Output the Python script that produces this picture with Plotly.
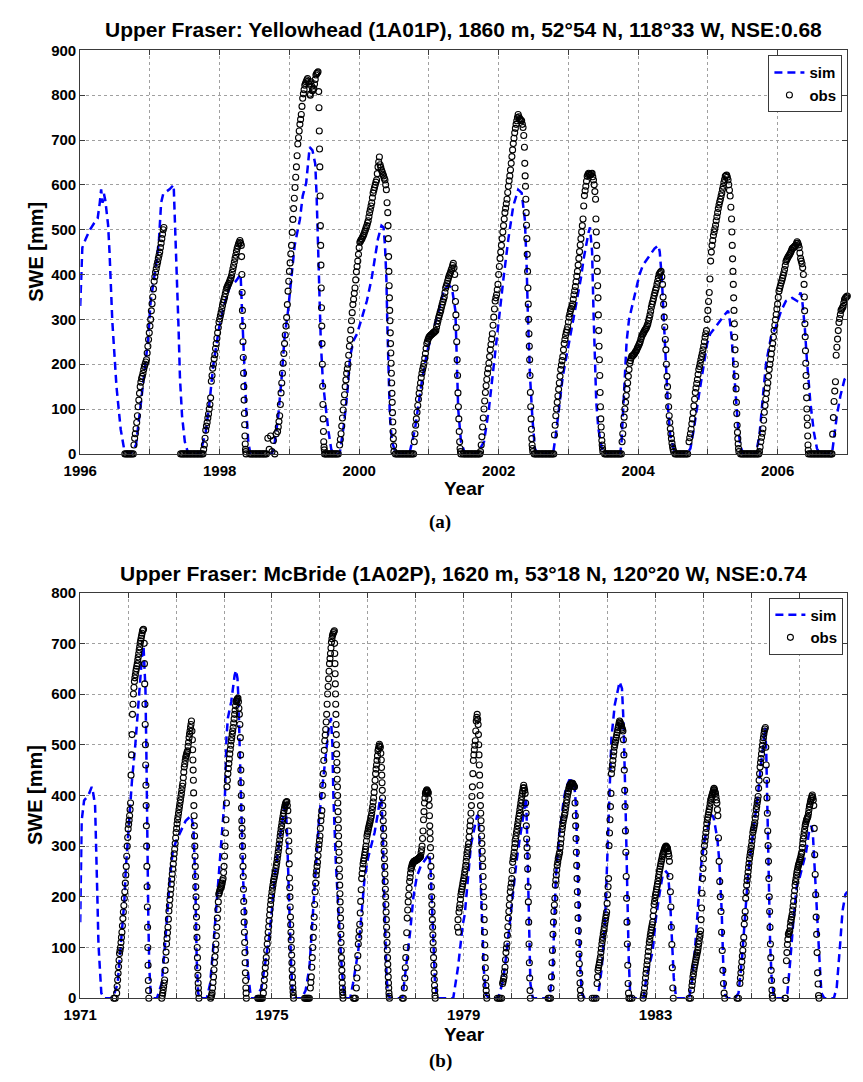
import plotly.graph_objects as go

W, H = 863, 1082

# ---------------- Panel (a): Yellowhead (1A01P) ----------------
# simulated SWE as (decimal year, mm)
sim_a = [
    (1996.00, 330), (1996.03, 460), (1996.08, 480), (1996.14, 500), (1996.20, 515), (1996.25, 525),
    (1996.28, 560), (1996.30, 590), (1996.32, 560), (1996.34, 580), (1996.36, 565), (1996.38, 540),
    (1996.40, 510), (1996.42, 450), (1996.46, 296), (1996.52, 150), (1996.58, 55), (1996.63, 10), (1996.70, 0),
    (1996.72, 0), (1996.80, 20), (1996.86, 100), (1996.92, 180), (1996.97, 250), (1997.01, 340), (1997.04, 370),
    (1997.07, 400), (1997.10, 436), (1997.13, 480), (1997.16, 560), (1997.19, 580), (1997.24, 585), (1997.28, 590),
    (1997.34, 600), (1997.36, 520), (1997.385, 390), (1997.41, 280), (1997.43, 170), (1997.46, 85), (1997.50, 27), (1997.55, 0),
    (1997.72, 0), (1997.80, 50), (1997.85, 110), (1997.91, 200), (1997.99, 280), (1998.06, 330), (1998.10, 350),
    (1998.15, 375), (1998.23, 385), (1998.30, 400), (1998.32, 320), (1998.345, 246), (1998.36, 173), (1998.38, 100),
    (1998.41, 27), (1998.44, 0),
    (1998.75, 0), (1998.79, 27), (1998.84, 85), (1998.89, 173), (1998.93, 260), (1998.98, 319), (1999.03, 392),
    (1999.075, 465), (1999.15, 523), (1999.19, 575), (1999.24, 604), (1999.27, 647), (1999.29, 684), (1999.33, 677),
    (1999.37, 647), (1999.39, 575), (1999.41, 465), (1999.43, 340), (1999.45, 250), (1999.48, 160), (1999.52, 100),
    (1999.56, 50), (1999.60, 10), (1999.64, 0),
    (1999.72, 0), (1999.78, 64), (1999.83, 136), (1999.87, 217), (1999.92, 253), (1999.97, 268), (2000.04, 304),
    (2000.11, 341), (2000.18, 392), (2000.23, 436), (2000.27, 480), (2000.32, 509), (2000.35, 505), (2000.37, 465),
    (2000.39, 392), (2000.405, 282), (2000.42, 173), (2000.44, 85), (2000.47, 27), (2000.53, 0),
    (2000.72, 0), (2000.80, 55), (2000.86, 120), (2000.91, 173), (2000.98, 231), (2001.05, 268), (2001.14, 319),
    (2001.21, 363), (2001.28, 377), (2001.33, 370), (2001.38, 319), (2001.40, 210), (2001.42, 100), (2001.46, 27), (2001.52, 0),
    (2001.69, 0), (2001.79, 27), (2001.86, 100), (2001.93, 202), (2002.00, 297), (2002.07, 392), (2002.14, 480),
    (2002.21, 553), (2002.28, 589), (2002.33, 582), (2002.375, 524), (2002.40, 429), (2002.42, 305), (2002.45, 173),
    (2002.485, 78), (2002.52, 12), (2002.565, 0),
    (2002.78, 0), (2002.82, 42), (2002.87, 115), (2002.92, 173), (2002.99, 232), (2003.06, 290), (2003.13, 348),
    (2003.18, 392), (2003.22, 436), (2003.27, 480), (2003.29, 494), (2003.31, 505), (2003.34, 451), (2003.36, 319),
    (2003.38, 210), (2003.40, 115), (2003.43, 56), (2003.48, 12), (2003.53, 0),
    (2003.74, 0), (2003.76, 20), (2003.80, 150), (2003.835, 250), (2003.87, 300), (2003.91, 327), (2003.95, 356),
    (2004.02, 400), (2004.07, 421), (2004.14, 436), (2004.235, 458), (2004.29, 465), (2004.31, 451), (2004.34, 392),
    (2004.37, 283), (2004.40, 173), (2004.43, 100), (2004.46, 42), (2004.52, 5), (2004.56, 0),
    (2004.70, 0), (2004.75, 12), (2004.80, 56), (2004.87, 129), (2004.94, 202), (2004.99, 246), (2005.035, 268),
    (2005.105, 283), (2005.18, 297), (2005.25, 312), (2005.29, 319), (2005.31, 305), (2005.34, 261), (2005.365, 210),
    (2005.39, 158), (2005.41, 100), (2005.435, 56), (2005.47, 16), (2005.51, 0),
    (2005.69, 0), (2005.74, 42), (2005.79, 129), (2005.835, 202), (2005.905, 261), (2005.975, 283), (2006.05, 319),
    (2006.12, 341), (2006.21, 348), (2006.28, 341), (2006.33, 360), (2006.35, 348), (2006.39, 283), (2006.42, 210),
    (2006.47, 115), (2006.52, 49), (2006.565, 12), (2006.61, 0),
    (2006.78, 0), (2006.80, 27), (2006.85, 85), (2006.90, 129), (2006.96, 166), (2007.00, 173),
]

# observed SWE, stored as evenly sampled runs: (first sample year, sampling step in years, values in mm)
obs_a_1997_bare = (1996.64, 0.02, [0, 0, 0, 0, 0, 0, 0])
obs_a_1997_acc = (1996.77, 0.01, [20, 35, 45, 56, 70, 85, 105, 120, 135, 150, 160, 168, 173, 180, 188, 195, 200, 205,
                                  210, 225, 240, 255, 270, 285, 300, 319, 335, 350, 368, 385, 395, 405, 413, 421, 428,
                                  436, 443, 450, 460, 470, 480, 490, 500, 505])
obs_a_1998_bare = (1997.44, 0.02, [0, 0, 0, 0, 0, 0, 0, 0, 0, 0, 0, 0, 0, 0, 0, 0, 0])
obs_a_1998_acc = (1997.77, 0.01, [10, 20, 35, 53, 62, 70, 80, 89, 100, 110, 125, 162, 175, 191, 200, 212, 221, 235, 246,
                                  258, 270, 282, 294, 301, 308, 315, 323, 331, 338, 344, 350, 357, 364, 370, 373, 377,
                                  380, 384, 388, 392, 398, 405, 413, 420, 428, 436, 443, 451, 458, 463, 468, 472, 476,
                                  470, 465])
obs_a_1998_melt = (1998.314, 0.004, [440, 400, 360, 320, 285, 250, 215, 180, 150, 120, 90, 65, 40, 22, 10, 5, 0])
obs_a_1998_summer = (1998.43, 0.02, [0, 0, 0, 0, 0, 0, 0, 0, 0, 0, 0, 0, 0, 35, 10, 40, 5, 30, 0, 45])
obs_a_1999_acc = (1998.83, 0.01, [50, 60, 72, 85, 110, 136, 158, 180, 202, 224, 246, 265, 285, 304, 333, 363, 385, 407,
                                  426, 446, 465, 494, 523, 547, 570, 594, 617, 640, 665, 691, 705, 720, 735, 746, 757,
                                  775, 793, 803, 812, 822, 826, 830, 834, 837, 831, 825, 802, 800, 830, 820, 810, 812,
                                  815, 825, 835, 845, 848, 850, 852])
obs_a_1999_melt = (1999.42, 0.004, [808, 772, 720, 680, 640, 575, 509, 465, 421, 370, 326, 285, 246, 200, 151, 110, 78,
                                    50, 27, 15, 9, 0])
obs_a_1999_summer = (1999.52, 0.02, [0, 0, 0, 0, 0, 0, 0, 0, 0, 0])
obs_a_2000_acc = (1999.72, 0.01, [20, 32, 45, 62, 80, 98, 115, 132, 150, 165, 180, 190, 200, 220, 240, 255, 276, 297,
                                  315, 333, 345, 358, 370, 388, 406, 418, 430, 445, 460, 472, 475, 478, 480, 484, 487,
                                  491, 496, 500, 505, 509, 515, 520, 529, 538, 545, 553, 560, 571, 582, 588, 594, 600,
                                  606, 611, 625, 640, 651, 662, 645, 639, 633, 629, 624, 620, 615, 611, 600, 589, 560])
obs_a_2000_melt = (2000.41, 0.004, [538, 509, 480, 440, 407, 375, 348, 320, 297, 270, 246, 225, 202, 180, 158, 135, 115,
                                    92, 71, 50, 34, 18, 5])
obs_a_2000_summer = (2000.52, 0.02, [0, 0, 0, 0, 0, 0, 0, 0, 0, 0, 0, 0, 0, 0])
obs_a_2001_acc = (2000.79, 0.01, [27, 45, 64, 78, 93, 108, 122, 135, 147, 158, 170, 180, 188, 195, 202, 213, 224, 235,
                                  246, 251, 256, 260, 262, 264, 265, 267, 268, 270, 271, 272, 274, 275, 283, 290, 297,
                                  304, 309, 315, 320, 327, 333, 339, 345, 350, 360, 370, 375, 380, 386, 392, 397, 401,
                                  405, 410, 414, 420, 425, 415, 400])
obs_a_2001_melt = (2001.375, 0.006, [370, 340, 310, 282, 250, 210, 175, 136, 105, 78, 50, 27, 12, 5, 0])
obs_a_2001_summer = (2001.49, 0.02, [0, 0, 0, 0, 0, 0, 0, 0, 0, 0, 0, 0, 0])
obs_a_2002_acc = (2001.74, 0.01, [5, 20, 38, 60, 80, 100, 118, 137, 152, 166, 180, 190, 202, 217, 232, 244, 256, 268,
                                  287, 305, 323, 341, 348, 355, 366, 378, 400, 418, 436, 450, 465, 480, 495, 509, 524,
                                  538, 548, 558, 568, 583, 597, 609, 620, 633, 648, 663, 678, 692, 704, 716, 726, 735,
                                  743, 750, 757, 752, 748, 746, 744, 743, 735, 728, 710])
obs_a_2002_melt = (2002.37, 0.005, [684, 648, 620, 597, 568, 538, 510, 480, 445, 407, 370, 334, 300, 268, 240, 210, 175,
                                    137, 105, 78, 55, 34, 20, 12, 5])
obs_a_2002_summer = (2002.51, 0.02, [0, 0, 0, 0, 0, 0, 0, 0, 0, 0, 0, 0, 0, 0, 0])
obs_a_2003_acc = (2002.80, 0.01, [42, 64, 85, 100, 115, 129, 144, 158, 173, 188, 198, 208, 217, 232, 246, 255, 264, 271,
                                  277, 283, 294, 305, 312, 319, 324, 329, 334, 345, 355, 364, 373, 384, 396, 407, 421,
                                  436, 451, 466, 480, 495, 509, 524, 553, 576, 587, 597, 608, 619, 623, 626, 624, 622,
                                  623, 625, 626, 618, 611, 600, 585])
obs_a_2003_melt = (2003.39, 0.005, [568, 524, 495, 465, 436, 407, 375, 348, 310, 275, 240, 210, 175, 137, 105, 78, 60,
                                    42, 30, 20, 12, 5])
obs_a_2003_summer = (2003.52, 0.02, [0, 0, 0, 0, 0, 0, 0, 0, 0, 0, 0, 0, 0])
obs_a_2004_acc = (2003.77, 0.01, [27, 45, 64, 82, 100, 115, 130, 144, 158, 173, 188, 202, 208, 214, 218, 219, 220, 222,
                                  224, 227, 229, 232, 236, 239, 243, 246, 250, 256, 261, 265, 268, 271, 274, 277, 279,
                                  282, 286, 290, 297, 303, 310, 318, 327, 334, 340, 346, 353, 359, 365, 370, 378, 385,
                                  393, 400, 403, 405, 407, 395])
obs_a_2004_melt = (2004.35, 0.008, [378, 350, 334, 305, 283, 255, 232, 200, 173, 150, 129, 105, 85, 70, 56, 45, 34, 24,
                                    16, 10, 5])
obs_a_2004_summer = (2004.53, 0.02, [0, 0, 0, 0, 0, 0, 0, 0, 0, 0])
obs_a_2005_acc = (2004.73, 0.01, [27, 36, 45, 55, 67, 78, 92, 107, 122, 137, 147, 157, 166, 177, 188, 195, 202, 210, 217,
                                  224, 232, 240, 250, 260, 268, 275, 300, 320, 340, 360, 390, 430, 450, 465, 476, 487,
                                  495, 502, 510, 520, 529, 538, 547, 555, 562, 568, 575, 582, 590, 597, 605, 612, 619,
                                  621, 622, 617, 611, 600, 588, 575, 550])
obs_a_2005_melt = (2005.34, 0.005, [524, 495, 465, 435, 407, 378, 348, 320, 290, 260, 232, 200, 173, 145, 115, 90, 64,
                                    48, 34, 22, 12, 5])
obs_a_2005_summer = (2005.47, 0.02, [0, 0, 0, 0, 0, 0, 0, 0, 0, 0, 0, 0, 0, 0])
obs_a_2006_acc = (2005.74, 0.01, [5, 15, 27, 37, 46, 56, 75, 93, 108, 122, 135, 147, 158, 173, 188, 200, 211, 223, 235,
                                  246, 260, 275, 287, 299, 311, 323, 334, 349, 363, 369, 375, 381, 386, 392, 398, 404,
                                  411, 420, 429, 433, 436, 439, 442, 444, 447, 450, 454, 458, 459, 461, 462, 464, 465,
                                  469, 473, 470, 466, 460, 448, 436, 430, 424, 415, 400])
obs_a_2006_melt = (2006.38, 0.004, [378, 350, 319, 290, 261, 230, 202, 175, 151, 125, 100, 80, 64, 40, 20, 8, 0])
obs_a_2006_summer = (2006.47, 0.02, [0, 0, 0, 0, 0, 0, 0, 0, 0, 0, 0, 0, 0, 0, 0, 0])
obs_a_2007_acc = (2006.78, 0.01, [0, 44, 81, 117, 140, 161, 220, 238, 256, 275, 293, 302, 311, 320, 323, 326, 329, 337,
                                  344, 347, 349, 351, 352])

# ---------------- Panel (b): McBride (1A02P) ----------------
sim_b = [
    (1971.00, 150), (1971.03, 350), (1971.08, 390), (1971.17, 400), (1971.24, 417), (1971.27, 405), (1971.31, 380),
    (1971.34, 290), (1971.36, 190), (1971.38, 107), (1971.41, 42), (1971.44, 10), (1971.50, 0),
    (1971.68, 0), (1971.78, 29), (1971.85, 107), (1971.92, 191), (1971.95, 255), (1972.02, 352), (1972.08, 430),
    (1972.15, 501), (1972.22, 592), (1972.29, 676), (1972.32, 695), (1972.36, 611), (1972.38, 482), (1972.40, 288),
    (1972.42, 158), (1972.44, 61), (1972.47, 10), (1972.53, 0),
    (1972.60, 0), (1972.70, 30), (1972.77, 107), (1972.87, 237), (1972.93, 290), (1973.00, 310), (1973.10, 330),
    (1973.20, 350), (1973.31, 360), (1973.36, 340), (1973.40, 230), (1973.43, 75), (1973.46, 10), (1973.50, 0),
    (1973.64, 0), (1973.71, 29), (1973.78, 107), (1973.85, 191), (1973.92, 275), (1973.98, 352), (1974.02, 404),
    (1974.05, 514), (1974.08, 553), (1974.15, 585), (1974.22, 637), (1974.25, 647), (1974.28, 631), (1974.30, 590),
    (1974.33, 480), (1974.36, 350), (1974.40, 230), (1974.45, 140), (1974.50, 50), (1974.56, 0),
    (1974.66, 0), (1974.78, 20), (1974.86, 70), (1974.94, 120), (1975.01, 185), (1975.07, 250), (1975.14, 300),
    (1975.21, 345), (1975.28, 390), (1975.31, 334), (1975.34, 237), (1975.37, 140), (1975.40, 62), (1975.43, 10), (1975.47, 0),
    (1975.62, 0), (1975.70, 15), (1975.78, 60), (1975.85, 158), (1975.92, 255), (1975.98, 352), (1976.05, 417),
    (1976.12, 482), (1976.18, 530), (1976.23, 553), (1976.26, 500), (1976.28, 400), (1976.30, 334), (1976.33, 270),
    (1976.37, 200), (1976.40, 140), (1976.44, 80), (1976.47, 42), (1976.50, 10), (1976.54, 0),
    (1976.63, 0), (1976.69, 29), (1976.80, 94), (1976.86, 158), (1976.93, 236), (1977.00, 275), (1977.07, 301),
    (1977.14, 327), (1977.20, 360), (1977.25, 390), (1977.28, 395), (1977.31, 334), (1977.34, 205), (1977.37, 100),
    (1977.39, 40), (1977.42, 8), (1977.46, 0),
    (1977.72, 0), (1977.80, 60), (1977.88, 130), (1977.95, 200), (1978.02, 240), (1978.10, 260), (1978.20, 275),
    (1978.28, 285), (1978.31, 250), (1978.34, 180), (1978.37, 100), (1978.40, 30), (1978.45, 0),
    (1978.78, 0), (1978.88, 61), (1978.98, 146), (1979.02, 165), (1979.08, 230), (1979.15, 302), (1979.22, 335),
    (1979.28, 361), (1979.30, 359), (1979.32, 335), (1979.35, 237), (1979.39, 139), (1979.42, 54), (1979.46, 8), (1979.52, 0),
    (1979.72, 0), (1979.82, 35), (1979.89, 87), (1979.96, 152), (1980.03, 218), (1980.10, 270), (1980.17, 316),
    (1980.23, 355), (1980.28, 390), (1980.30, 395), (1980.32, 327), (1980.34, 223), (1980.36, 126), (1980.39, 29), (1980.44, 0),
    (1980.78, 0), (1980.85, 41), (1980.88, 139), (1980.92, 237), (1980.99, 322), (1981.09, 395), (1981.14, 417),
    (1981.20, 430), (1981.27, 430), (1981.31, 417), (1981.34, 380), (1981.37, 290), (1981.40, 170), (1981.43, 60),
    (1981.46, 10), (1981.52, 0),
    (1981.75, 0), (1981.81, 10), (1981.88, 61), (1981.95, 158), (1982.00, 288), (1982.05, 404), (1982.08, 514),
    (1982.15, 579), (1982.22, 611), (1982.25, 624), (1982.30, 611), (1982.33, 550), (1982.37, 400), (1982.40, 250),
    (1982.42, 150), (1982.44, 80), (1982.47, 10), (1982.52, 0),
    (1982.75, 0), (1982.80, 35), (1982.94, 93), (1983.00, 152), (1983.08, 204), (1983.15, 244), (1983.22, 250),
    (1983.26, 245), (1983.30, 200), (1983.34, 120), (1983.38, 40), (1983.43, 0),
    (1983.70, 0), (1983.76, 35), (1983.83, 106), (1983.90, 200), (1983.96, 270), (1984.03, 316), (1984.10, 340),
    (1984.17, 361), (1984.20, 359), (1984.22, 352), (1984.29, 314), (1984.33, 270), (1984.38, 172), (1984.41, 74),
    (1984.45, 8), (1984.50, 0),
    (1984.66, 0), (1984.73, 10), (1984.80, 74), (1984.86, 158), (1984.93, 243), (1985.00, 301), (1985.07, 352),
    (1985.14, 404), (1985.20, 462), (1985.26, 514), (1985.29, 534), (1985.31, 482), (1985.33, 385), (1985.35, 288),
    (1985.37, 191), (1985.39, 107), (1985.42, 42), (1985.47, 0),
    (1985.68, 0), (1985.75, 10), (1985.81, 74), (1985.88, 158), (1985.95, 223), (1986.00, 236), (1986.07, 262),
    (1986.14, 288), (1986.20, 327), (1986.25, 340), (1986.28, 327), (1986.32, 250), (1986.36, 172), (1986.42, 74),
    (1986.46, 10), (1986.52, 0),
    (1986.72, 0), (1986.78, 22), (1986.85, 106), (1986.90, 172), (1986.96, 205), (1987.00, 210),
]

obs_b_1972_bare = (1971.70, 0.03, [0, 0])
obs_b_1972_acc = (1971.76, 0.01, [10, 23, 36, 49, 62, 75, 88, 94, 100, 110, 120, 130, 143, 157, 170, 183, 197, 210, 227,
                                  243, 260, 280, 300, 317, 334, 343, 351, 360, 372, 385, 440, 480, 520, 560, 580, 600,
                                  613, 625, 632, 638, 645, 650, 655, 660, 667, 673, 680, 687, 693, 700, 705, 710, 715,
                                  720, 725, 727, 728])
obs_b_1972_melt = (1972.335, 0.005, [700, 660, 620, 580, 540, 500, 460, 420, 380, 340, 300, 260, 220, 180, 140, 100, 65,
                                     35, 15, 0])
obs_b_1973_acc = (1972.70, 0.01, [0, 5, 10, 16, 23, 30, 36, 55, 75, 91, 107, 118, 129, 140, 156, 172, 183, 194, 205, 215,
                                  225, 235, 245, 255, 265, 275, 285, 294, 305, 316, 327, 335, 344, 352, 358, 365, 372,
                                  378, 385, 391, 398, 404, 411, 418, 424, 435, 446, 456, 462, 469, 475, 478, 482, 485,
                                  488, 497, 505, 514, 521, 527, 534, 540, 547, 527])
obs_b_1973_melt = (1973.34, 0.005, [510, 490, 470, 450, 430, 405, 380, 360, 340, 320, 300, 280, 260, 240, 220, 200, 180,
                                    160, 140, 120, 100, 80, 60, 45, 30, 20, 10, 0])
obs_b_1974_acc = (1973.72, 0.01, [0, 3, 6, 10, 20, 31, 42, 56, 70, 82, 95, 107, 123, 140, 158, 175, 190, 205, 208, 212,
                                  215, 218, 220, 223, 227, 232, 236, 248, 260, 280, 300, 326, 352, 385, 417, 430, 443,
                                  453, 463, 472, 482, 491, 499, 508, 514, 521, 527, 534, 543, 551, 560, 568, 577, 585,
                                  587, 589, 590, 592, 585, 572, 560, 540])
obs_b_1974_melt = (1974.34, 0.005, [514, 480, 450, 425, 400, 375, 350, 335, 320, 300, 280, 260, 240, 215, 191, 170, 150,
                                    130, 110, 90, 70, 50, 35, 20, 10, 0])
obs_b_1975_bare = (1974.70, 0.02, [0, 0, 0, 0, 0, 0])
obs_b_1975_acc = (1974.82, 0.01, [10, 23, 36, 48, 60, 70, 80, 94, 107, 118, 130, 141, 153, 164, 175, 185, 193, 202, 210,
                                  217, 223, 230, 235, 240, 245, 250, 256, 262, 268, 275, 282, 289, 296, 304, 312, 320,
                                  327, 334, 340, 347, 353, 359, 365, 370, 375, 380, 383, 386, 387, 388, 380, 370])
obs_b_1975_melt = (1975.34, 0.005, [350, 330, 310, 290, 265, 237, 218, 200, 180, 160, 145, 130, 115, 100, 85, 70, 56, 42,
                                    30, 20, 12, 5, 0])
obs_b_1976_bare = (1975.68, 0.02, [0, 0, 0, 0, 0, 0])
obs_b_1976_acc = (1975.80, 0.01, [20, 31, 42, 61, 80, 100, 120, 140, 160, 185, 210, 227, 243, 251, 260, 268, 281, 294,
                                  303, 311, 320, 335, 350, 360, 370, 400, 420, 443, 469, 489, 508, 519, 530, 545, 560,
                                  580, 600, 615, 630, 645, 660, 670, 680, 691, 702, 709, 715, 718, 721, 723, 725])
obs_b_1976_melt = (1976.305, 0.004, [700, 680, 660, 640, 620, 600, 580, 560, 540, 520, 500, 482, 465, 450, 432, 417, 400,
                                     385, 368, 352, 336, 320, 304, 288, 272, 255, 240, 223, 206, 190, 174, 158, 142,
                                     126, 110, 94, 80, 68, 55, 42, 30, 20, 12, 6, 0])
obs_b_1977_bare = (1976.70, 0.02, [0, 0, 0])
obs_b_1977_acc = (1976.76, 0.01, [20, 40, 60, 84, 107, 120, 133, 146, 168, 191, 214, 236, 246, 256, 265, 271, 276, 282,
                                  288, 294, 300, 310, 320, 325, 329, 334, 338, 342, 346, 350, 355, 359, 365, 372, 378,
                                  387, 395, 406, 417, 430, 443, 452, 460, 469, 478, 488, 492, 497, 501, 498, 495, 483])
obs_b_1977_melt = (1977.28, 0.005, [470, 455, 440, 425, 410, 395, 380, 365, 350, 335, 320, 305, 290, 275, 260, 245, 230,
                                    215, 200, 185, 170, 155, 140, 125, 110, 95, 80, 67, 55, 42, 30, 20, 10, 4, 0])
obs_b_1978_bare = (1977.72, 0.02, [0, 0])
obs_b_1978_acc = (1977.76, 0.01, [20, 40, 60, 80, 100, 129, 158, 174, 190, 203, 217, 230, 238, 247, 255, 258, 262, 265,
                                  267, 268, 270, 270, 271, 271, 272, 272, 273, 274, 274, 275, 276, 277, 278, 279, 280,
                                  287, 293, 300, 315, 330, 352, 368, 385, 395, 404, 407, 409, 411, 409, 407, 405, 393])
obs_b_1978_melt = (1978.28, 0.005, [380, 360, 340, 327, 314, 297, 280, 260, 240, 220, 200, 185, 170, 155, 140, 125, 110,
                                    95, 80, 65, 50, 37, 25, 15, 5, 0])
obs_b_1979_acc = (1978.87, 0.01, [140, 155, 130, 170, 178, 185, 195, 204, 210, 215, 220, 226, 231, 236, 242, 249, 255,
                                  262, 270, 278, 285, 292, 298, 305, 318, 330, 340, 350, 365, 380, 398, 417, 443, 469,
                                  480, 490, 499, 508, 527, 547, 554, 560, 550])
obs_b_1979_melt = (1979.30, 0.006, [540, 520, 500, 480, 460, 440, 420, 400, 380, 365, 350, 335, 320, 305, 290, 275, 260,
                                    240, 220, 200, 180, 155, 130, 105, 80, 60, 40, 25, 15, 5, 0])
obs_b_1980_bare = (1979.70, 0.03, [0, 0, 0, 0])
obs_b_1980_acc = (1979.81, 0.01, [29, 33, 38, 42, 52, 61, 76, 90, 99, 107, 124, 141, 158, 171, 184, 197, 210, 219, 227,
                                  236, 252, 268, 275, 281, 288, 297, 305, 314, 320, 327, 333, 340, 346, 353, 359, 365,
                                  372, 378, 385, 391, 398, 404, 409, 415, 420, 415, 410, 404, 385, 365])
obs_b_1980_melt = (1980.305, 0.007, [340, 314, 297, 280, 255, 220, 190, 150, 107, 70, 40, 15, 0])
obs_b_1981_bare = (1980.76, 0.025, [0, 0, 0])
obs_b_1981_acc = (1980.82, 0.01, [20, 42, 70, 94, 126, 150, 171, 184, 197, 223, 233, 243, 253, 262, 268, 275, 279, 284,
                                  288, 297, 305, 314, 324, 333, 339, 346, 352, 356, 361, 365, 372, 378, 385, 391, 398,
                                  404, 408, 413, 417, 419, 421, 422, 424, 424, 424, 424, 422, 420, 418, 417])
obs_b_1981_melt = (1981.32, 0.007, [385, 360, 340, 315, 288, 262, 236, 210, 184, 158, 133, 110, 87, 68, 49, 30, 16, 5, 0])
obs_b_1982_bare = (1981.68, 0.04, [0, 0, 0])
obs_b_1982_acc = (1981.78, 0.01, [29, 42, 55, 60, 65, 70, 76, 81, 90, 98, 107, 114, 120, 127, 133, 139, 146, 152, 158,
                                  164, 170, 187, 204, 220, 236, 301, 326, 352, 378, 404, 443, 452, 460, 469, 478, 486,
                                  495, 500, 505, 509, 514, 519, 524, 529, 534, 538, 543, 547, 545, 542, 540, 537, 533,
                                  530, 527, 510])
obs_b_1982_melt = (1982.34, 0.008, [480, 450, 410, 378, 330, 288, 240, 197, 150, 107, 65, 29, 10, 0])
obs_b_1983_bare = (1982.47, 0.04, [0, 0])
obs_b_1983_acc = (1982.74, 0.01, [0, 5, 10, 20, 30, 40, 49, 57, 66, 74, 83, 92, 101, 110, 116, 123, 129, 135, 140, 145,
                                  150, 162, 173, 185, 191, 198, 204, 209, 215, 220, 225, 231, 238, 244, 250, 255, 260,
                                  265, 270, 274, 279, 283, 286, 289, 292, 295, 297, 299, 300, 298, 297, 295, 290, 285,
                                  280])
obs_b_1983_melt = (1983.29, 0.01, [270, 240, 210, 180, 140, 106, 60, 20, 0])
obs_b_1984_bare = (1983.70, 0.03, [0, 0])
obs_b_1984_acc = (1983.75, 0.01, [16, 25, 33, 42, 48, 55, 61, 66, 71, 76, 81, 85, 90, 94, 100, 107, 113, 120, 126, 133,
                                  155, 178, 207, 236, 256, 275, 288, 301, 310, 318, 327, 335, 344, 352, 357, 362, 367,
                                  372, 378, 385, 391, 394, 398, 401, 404, 407, 411, 414, 411, 407, 404, 398, 391, 385,
                                  372])
obs_b_1984_melt = (1984.30, 0.013, [360, 316, 270, 230, 200, 171, 130, 94, 55, 29, 10, 0])
obs_b_1985_bare = (1984.70, 0.03, [0, 0])
obs_b_1985_acc = (1984.76, 0.01, [29, 40, 50, 61, 72, 83, 94, 107, 120, 146, 158, 171, 197, 210, 223, 232, 240, 249, 258,
                                  266, 275, 282, 288, 295, 301, 310, 318, 327, 332, 336, 341, 346, 355, 363, 372, 378,
                                  385, 391, 398, 414, 430, 443, 456, 465, 473, 482, 491, 499, 508, 514, 521, 527, 531,
                                  534])
obs_b_1985_melt = (1985.30, 0.008, [495, 460, 430, 395, 365, 330, 301, 270, 236, 200, 171, 140, 107, 80, 55, 35, 16, 5, 0])
obs_b_1986_bare = (1985.70, 0.01, [0, 0])
obs_b_1986_acc = (1985.72, 0.01, [35, 74, 90, 106, 116, 126, 128, 131, 133, 142, 150, 155, 160, 165, 174, 182, 191, 202,
                                  212, 223, 230, 236, 243, 249, 253, 258, 262, 265, 268, 272, 275, 279, 284, 288, 297,
                                  305, 314, 320, 327, 333, 340, 344, 348, 352, 354, 357, 359, 365, 372, 378, 382, 387,
                                  391, 394, 398, 401, 396, 391])
obs_b_1986_melt = (1986.30, 0.01, [380, 335, 283, 244, 204, 160, 126, 90, 50, 28, 5, 0])

obs_a_runs = [
    obs_a_1997_bare, obs_a_1997_acc, obs_a_1998_bare, obs_a_1998_acc, obs_a_1998_melt, obs_a_1998_summer,
    obs_a_1999_acc, obs_a_1999_melt, obs_a_1999_summer, obs_a_2000_acc, obs_a_2000_melt, obs_a_2000_summer,
    obs_a_2001_acc, obs_a_2001_melt, obs_a_2001_summer, obs_a_2002_acc, obs_a_2002_melt, obs_a_2002_summer,
    obs_a_2003_acc, obs_a_2003_melt, obs_a_2003_summer, obs_a_2004_acc, obs_a_2004_melt, obs_a_2004_summer,
    obs_a_2005_acc, obs_a_2005_melt, obs_a_2005_summer, obs_a_2006_acc, obs_a_2006_melt, obs_a_2006_summer,
    obs_a_2007_acc,
]
obs_b_runs = [
    obs_b_1972_bare, obs_b_1972_acc, obs_b_1972_melt, obs_b_1973_acc, obs_b_1973_melt, obs_b_1974_acc, obs_b_1974_melt,
    obs_b_1975_bare, obs_b_1975_acc, obs_b_1975_melt, obs_b_1976_bare, obs_b_1976_acc, obs_b_1976_melt,
    obs_b_1977_bare, obs_b_1977_acc, obs_b_1977_melt, obs_b_1978_bare, obs_b_1978_acc, obs_b_1978_melt,
    obs_b_1979_acc, obs_b_1979_melt, obs_b_1980_bare, obs_b_1980_acc, obs_b_1980_melt,
    obs_b_1981_bare, obs_b_1981_acc, obs_b_1981_melt, obs_b_1982_bare, obs_b_1982_acc, obs_b_1982_melt,
    obs_b_1983_bare, obs_b_1983_acc, obs_b_1983_melt, obs_b_1984_bare, obs_b_1984_acc, obs_b_1984_melt,
    obs_b_1985_bare, obs_b_1985_acc, obs_b_1985_melt, obs_b_1986_bare, obs_b_1986_acc, obs_b_1986_melt,
]

# axis ticks and labels
years_a = list(range(1996, 2008))
labels_a = [str(y) if y % 2 == 0 and y < 2007 else "" for y in years_a]
years_b = list(range(1971, 1988))
labels_b = [str(y) if (y - 1971) % 4 == 0 else "" for y in years_b]
swe_ticks_a = list(range(0, 1000, 100))
swe_ticks_b = list(range(0, 900, 100))

title_a = "Upper Fraser: Yellowhead (1A01P), 1860 m, 52°54 N, 118°33 W, NSE:0.68"
title_b = "Upper Fraser: McBride (1A02P), 1620 m, 53°18 N, 120°20 W, NSE:0.74"


def unzip(points):
    return [p[0] for p in points], [p[1] for p in points]


def expand(runs):
    xs, ys = [], []
    for start, step, values in runs:
        for i, v in enumerate(values):
            xs.append(round(start + i * step, 4))
            ys.append(v)
    return xs, ys


def fx(px):
    return px / W


def fy(py):
    return 1 - py / H


SANS = "Liberation Sans, Arial, Helvetica, sans-serif"
SERIF = "Liberation Serif, Times New Roman, serif"
sim_line = dict(color="#0000ff", width=2.5, dash="8px,5px")
obs_marker = dict(symbol="circle-open", size=6, color="black", line=dict(width=1.1, color="black"))

fig = go.Figure()
for sim, runs, xa, ya, lg in [(sim_a, obs_a_runs, "x", "y", "legend"), (sim_b, obs_b_runs, "x2", "y2", "legend2")]:
    sx, sy = unzip(sim)
    ox, oy = expand(runs)
    fig.add_trace(go.Scatter(x=sx, y=sy, mode="lines", name="sim", line=sim_line,
                             xaxis=xa, yaxis=ya, legend=lg, hoverinfo="skip"))
    fig.add_trace(go.Scatter(x=ox, y=oy, mode="markers", name="obs", marker=obs_marker,
                             xaxis=xa, yaxis=ya, legend=lg, cliponaxis=False, hoverinfo="skip"))

axis_style = dict(
    showline=True, linecolor="#3a3a3a", linewidth=1, mirror="ticks",
    ticks="inside", ticklen=5, tickwidth=1, tickcolor="#3a3a3a",
    showgrid=True, gridcolor="#a0a0a0", griddash="dot", gridwidth=1, zeroline=False,
    tickfont=dict(family=SANS, size=15, color="black", weight="bold"),
)

left, right = 64.5, 847
legend_style = dict(
    xanchor="right", yanchor="top", bgcolor="white", bordercolor="#3a3a3a", borderwidth=1,
    font=dict(family=SANS, size=15, color="black", weight="bold"),
    itemwidth=30, tracegroupgap=0,
)

fig.update_layout(
    width=W, height=H, margin=dict(l=0, r=0, t=0, b=0),
    paper_bgcolor="white", plot_bgcolor="white", showlegend=True,
    xaxis=dict(domain=[fx(left), fx(right)], range=[1996, 2007], anchor="y", ticklabelstandoff=3,
               tickmode="array", tickvals=years_a, ticktext=labels_a, **axis_style),
    yaxis=dict(domain=[fy(452), fy(42)], range=[0, 900], anchor="x",
               tickmode="array", tickvals=swe_ticks_a, **axis_style),
    xaxis2=dict(domain=[fx(left), fx(right)], range=[1971, 1987], anchor="y2", ticklabelstandoff=3,
                tickmode="array", tickvals=years_b, ticktext=labels_b, **axis_style),
    yaxis2=dict(domain=[fy(1005), fy(593)], range=[0, 800], anchor="x2",
                tickmode="array", tickvals=swe_ticks_b, **axis_style),
    legend=dict(x=fx(842), y=fy(47), **legend_style),
    legend2=dict(x=fx(843), y=fy(598), **legend_style),
)

title_font = dict(family=SANS, size=21, color="black", weight="bold")
year_font = dict(family=SANS, size=19, color="black", weight="bold")
swe_font = dict(family=SANS, size=20, color="black", weight="bold")
panel_font = dict(family=SERIF, size=19, color="black", weight="bold")


def note(text, x, y, font, angle=0):
    fig.add_annotation(text=text, x=fx(x), y=fy(y), xref="paper", yref="paper",
                       xanchor="center", yanchor="middle", showarrow=False, font=font, textangle=angle)


note(title_a, 455, 21, title_font)
note(title_b, 455, 574, title_font)
note("Year", 456, 487, year_font)
note("Year", 456, 1042, year_font)
note("SWE [mm]", 19, 247, swe_font, -90)
note("SWE [mm]", 19, 799, swe_font, -90)
note("(a)", 432, 521, panel_font)
note("(b)", 432, 1069, panel_font)

fig.write_html("out.html")
